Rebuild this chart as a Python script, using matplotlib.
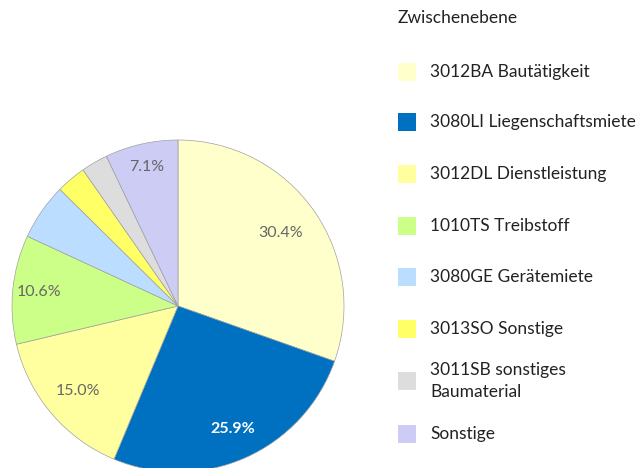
import matplotlib
matplotlib.use("Agg")
import matplotlib.pyplot as plt
import numpy as np
from matplotlib.patches import Rectangle

categories = ["3012BA Bautätigkeit", "3080LI Liegenschaftsmiete", "3012DL Dienstleistung",
              "1010TS Treibstoff", "3080GE Gerätemiete", "3013SO Sonstige",
              "3011SB sonstiges\nBaumaterial", "Sonstige"]
values = [30.4, 25.9, 15.0, 10.6, 5.5, 2.9, 2.6, 7.1]
colors = ["#FFFFCC", "#0070C0", "#FFFFA0", "#CCFF88", "#BBDDFF", "#FFFF66", "#DDDDDD", "#CCCCF5"]
legend_title = "Zwischenebene"

plt.rcParams['font.family'] = ['Lato', 'DejaVu Sans']

W, H = 638, 468
fig = plt.figure(figsize=(W / 100, H / 100), dpi=100)
cx, cy, r = 178, 306, 166
ax = fig.add_axes([(cx - r) / W, (H - cy - r) / H, 2 * r / W, 2 * r / H])
ax.set_aspect('equal')

wedges, _ = ax.pie(values, colors=colors, startangle=90, counterclock=False,
                   wedgeprops=dict(edgecolor="#A0A0A0", linewidth=0.5))
ax.set_xlim(-1, 1)
ax.set_ylim(-1, 1)
ax.axis('off')

dists = [0.76, 0.81, 0.79, 0.84, 0.8, 0.8, 0.8, 0.86]
for w, v, d, c in zip(wedges, values, dists, colors):
    if v < 7:
        continue
    ang = np.deg2rad((w.theta1 + w.theta2) / 2)
    x, y = d * np.cos(ang), d * np.sin(ang)
    if c == "#0070C0":
        ax.text(x, y, f"{v:.1f}%", ha='center', va='center', color='white',
                fontsize=11.5, fontweight='bold')
    else:
        ax.text(x, y, f"{v:.1f}%", ha='center', va='center', color='#666666', fontsize=11.5)

# legend
fig.text(398 / W, 1 - 18 / H, legend_title, ha='left', va='center', fontsize=12.5, color='#222222')
ys = [72, 122, 174, 226, 277, 329, 381, 434]
for lab, c, y in zip(categories, colors, ys):
    fig.patches.append(Rectangle((398 / W, 1 - (y + 9) / H), 18 / W, 18 / H,
                                 transform=fig.transFigure, facecolor=c, edgecolor='none'))
    fig.text(430 / W, 1 - y / H, lab, ha='left', va='center', fontsize=12.5,
             color='#222222', linespacing=1.5)

fig.savefig("out.png", dpi=100)
